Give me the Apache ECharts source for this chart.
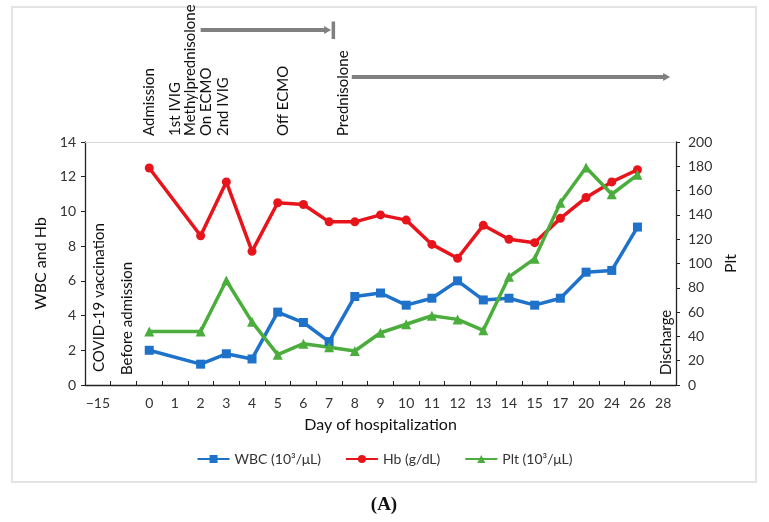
<!DOCTYPE html>
<html><head><meta charset="utf-8">
<script src="https://cdn.jsdelivr.net/npm/echarts@6/dist/echarts.min.js"></script>
<style>html,body{margin:0;padding:0;background:#fff}#c{width:769px;height:522px}</style>
</head><body><div id="c"></div>
<script>
// ---- data ----
const days = ['−15','','0','1','2','3','4','5','6','7','8','9','10','11','12','13','14','15','17','20','24','26','28'];
const wbc = [null,null,2.0,null,1.2,1.8,1.5,4.2,3.6,2.5,5.1,5.3,4.6,5.0,6.0,4.9,5.0,4.6,5.0,6.5,6.6,9.1,null];
const hb  = [null,null,12.5,null,8.6,11.7,7.7,10.5,10.4,9.4,9.4,9.8,9.5,8.1,7.3,9.2,8.4,8.2,9.6,10.8,11.7,12.4,null];
const plt = [null,null,44,null,44,86,52,25,34,31,28,43,50,57,54,45,89,104,150,179,157,173,null];
const seriesNames = ['WBC (10³/μL)','Hb (g/dL)','Plt (10³/μL)'];
const leftTicks = [0,14,2];
const rightTicks = [0,200,20];
const eventLabels = ['Admission','1st IVIG','Methylprednisolone','On ECMO','2nd IVIG','Off ECMO','Prednisolone'];
const eventDays   = ['0','1','1','2','3','5','7'];
const plotLabels = ['COVID-19 vaccination','Before admission','Discharge'];
const plotLabelDays = ['−15','','28'];
const treatStart = ['2','8'];
const treatEnd   = ['7','28'];

// ---- layout/styles ----
const FONT = 'Lato, "Open Sans", sans-serif';
const eventOffsets = [0,0,15,6,-3,5,14];
const plotLabelOffsets = [1,4,3];
const plotLabelBottoms = [372,375,375];

const chart = echarts.init(document.getElementById('c'), null, {renderer:'canvas'});
const txt = {color:'#333', fontFamily: FONT, fontSize: 14};
chart.setOption({
  animation:false,
  grid:{left:85, right:93, top:142, bottom:137},
  legend:{
    bottom:51, left:'center', itemWidth:32, itemHeight:10, itemGap:24,
    textStyle:{color:'#333', fontFamily:FONT, fontSize:14},
    data: seriesNames
  },
  xAxis:{
    type:'category', data:days, boundaryGap:true,
    name:'Day of hospitalization', nameLocation:'middle', nameGap:32,
    nameTextStyle:{color:'#111', fontFamily:FONT, fontSize:16},
    axisLine:{lineStyle:{color:'#222', width:1.3}},
    axisTick:{show:true, inside:true, length:4, interval:0, lineStyle:{color:'#222'}},
    axisLabel:Object.assign({interval:0, margin:11}, txt),
    splitLine:{show:false}
  },
  yAxis:[{
    type:'value', min:leftTicks[0], max:leftTicks[1], interval:leftTicks[2],
    name:'WBC and Hb', nameLocation:'middle', nameGap:23, nameRotate:90,
    nameTextStyle:{color:'#111', fontFamily:FONT, fontSize:16},
    axisLine:{show:true, lineStyle:{color:'#222', width:1.3}},
    axisTick:{show:true, length:4, lineStyle:{color:'#222'}},
    axisLabel:Object.assign({margin:9}, txt),
    splitLine:{show:false}
  },{
    type:'value', min:rightTicks[0], max:rightTicks[1], interval:rightTicks[2], position:'right',
    name:'Plt', nameLocation:'middle', nameGap:46, nameRotate:90,
    nameTextStyle:{color:'#111', fontFamily:FONT, fontSize:16},
    axisLine:{show:true, lineStyle:{color:'#222', width:1.3}},
    axisTick:{show:true, length:4, lineStyle:{color:'#222'}},
    axisLabel:Object.assign({margin:12}, txt),
    splitLine:{show:false}
  }],
  series:[
    {name:seriesNames[0], type:'line', data:wbc, yAxisIndex:0, connectNulls:true,
     symbol:'rect', symbolSize:9, color:'#1f72c9', lineStyle:{width:3.5},
     markLine:{silent:true, symbol:'none', label:{show:false},
       lineStyle:{color:'#d9d9d9', width:1, type:'solid'}, data:[{yAxis:leftTicks[1]}]}},
    {name:seriesNames[1], type:'line', data:hb, yAxisIndex:0, connectNulls:true,
     symbol:'circle', symbolSize:9, color:'#e8141b', lineStyle:{width:3.5}},
    {name:seriesNames[2], type:'line', data:plt, yAxisIndex:1, connectNulls:true,
     symbol:'triangle', symbolSize:10, color:'#4aad3c', lineStyle:{width:3.5}}
  ]
});

function xOf(d){ return chart.convertToPixel({xAxisIndex:0}, days.indexOf(d)); }
const g = [];
// frame
g.push({type:'rect', shape:{x:12,y:7,width:744,height:475}, style:{fill:null, stroke:'#e4e4e4', lineWidth:2}, silent:true});
// event labels above plot
eventLabels.forEach((t,i)=>{
  g.push({type:'text', x:xOf(eventDays[i])+eventOffsets[i], y:136, rotation:Math.PI/2,
    style:{text:t, font:'15px '+FONT, fill:'#111', align:'left', verticalAlign:'middle'}});
});
// labels inside plot
plotLabels.forEach((t,i)=>{
  g.push({type:'text', x:xOf(plotLabelDays[i])+plotLabelOffsets[i], y:plotLabelBottoms[i], rotation:Math.PI/2,
    style:{text:t, font:'15px '+FONT, fill:'#111', align:'left', verticalAlign:'middle'}});
});
// treatment arrows
const arrowY = [30, 77];
const arrowEndAdj = [2, 7];
const arrowStartAdj = [0, -3];
treatStart.forEach((s,i)=>{
  const x1 = xOf(s)+arrowStartAdj[i], x2 = xOf(treatEnd[i])+arrowEndAdj[i], y = arrowY[i];
  g.push({type:'line', shape:{x1:x1,y1:y,x2:x2-5,y2:y}, style:{stroke:'#808080', lineWidth:4}});
  g.push({type:'polygon', shape:{points:[[x2-7,y-4],[x2,y],[x2-7,y+4]]}, style:{fill:'#808080'}});
  if(i===0){
    g.push({type:'rect', shape:{x:x2+0.5,y:y-8.5,width:3.5,height:17.5}, style:{fill:'#808080'}});
  }
});
// panel label
g.push({type:'text', x:384, y:505, style:{text:'(A)', font:'bold 19px "Liberation Serif", "DejaVu Serif", serif', fill:'#111', align:'center', verticalAlign:'middle'}});
chart.setOption({graphic:g});
</script>
</body></html>
